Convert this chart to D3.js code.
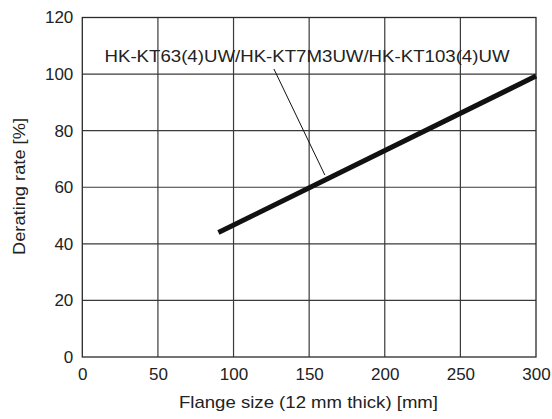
<!DOCTYPE html>
<html><head><meta charset="utf-8">
<script src="https://cdn.jsdelivr.net/npm/d3@7"></script>
<style>body{margin:0;background:#fff}svg{display:block}text{font-family:"Liberation Sans",Arial,sans-serif;fill:#222}</style>
</head><body>
<script>
const xTicks = [0, 50, 100, 150, 200, 250, 300];
const yTicks = [0, 20, 40, 60, 80, 100, 120];
const lineX = [90, 300];
const lineY = [44, 99.3];
const seriesLabel = "HK-KT63(4)UW/HK-KT7M3UW/HK-KT103(4)UW";
const leaderX = [126.7, 160.4];
const leaderY = [101.8, 64.3];
const xTitle = "Flange size (12 mm thick) [mm]";
const yTitle = "Derating rate [%]";

const W = 552, H = 419;
const m = {l: 82.3, r: 536, t: 17.5, b: 357};
const svg = d3.select("body").append("svg").attr("width", W).attr("height", H);
const x = d3.scaleLinear().domain([0, 300]).range([m.l, m.r]);
const y = d3.scaleLinear().domain([0, 120]).range([m.b, m.t]);

// grid
svg.append("g").selectAll("line").data(xTicks.slice(1, -1)).join("line")
  .attr("x1", d => x(d)).attr("x2", d => x(d)).attr("y1", m.t).attr("y2", m.b)
  .attr("stroke", "#3a3a3a").attr("stroke-width", 1.2);
svg.append("g").selectAll("line").data(yTicks.slice(1, -1)).join("line")
  .attr("y1", d => y(d)).attr("y2", d => y(d)).attr("x1", m.l).attr("x2", m.r)
  .attr("stroke", "#3a3a3a").attr("stroke-width", 1.2);
svg.append("rect").attr("x", m.l).attr("y", m.t).attr("width", m.r - m.l).attr("height", m.b - m.t)
  .attr("fill", "none").attr("stroke", "#2a2a2a").attr("stroke-width", 1.3);

// axes
const xa = svg.append("g").attr("transform", `translate(0,${m.b})`)
  .call(d3.axisBottom(x).tickValues(xTicks).tickSize(0).tickPadding(0));
xa.select(".domain").remove();
xa.selectAll("text").attr("font-size", 17).attr("fill", "#222").attr("dy", null).attr("y", 23);
const ya = svg.append("g").attr("transform", `translate(${m.l},0)`)
  .call(d3.axisLeft(y).tickValues(yTicks).tickSize(0).tickPadding(9));
ya.select(".domain").remove();
ya.selectAll("text").attr("font-size", 17).attr("fill", "#222").attr("dy", "0.32em");

// series line
const line = d3.line().x(d => x(d[0])).y(d => y(d[1]));
svg.append("path").datum(lineX.map((v, i) => [v, lineY[i]])).attr("d", line)
  .attr("fill", "none").attr("stroke", "#111").attr("stroke-width", 5);

// leader
svg.append("path").datum(leaderX.map((v, i) => [v, leaderY[i]])).attr("d", line)
  .attr("fill", "none").attr("stroke", "#111").attr("stroke-width", 1);

// label
svg.append("text").attr("x", 307).attr("y", 62).attr("text-anchor", "middle")
  .attr("font-size", 17).attr("textLength", 405).attr("lengthAdjust", "spacingAndGlyphs").text(seriesLabel);

// titles
svg.append("text").attr("x", 308.5).attr("y", 408).attr("text-anchor", "middle")
  .attr("font-size", 17).attr("textLength", 259).attr("lengthAdjust", "spacingAndGlyphs").text(xTitle);
svg.append("text").attr("transform", `translate(24.5,186.5) rotate(-90)`)
  .attr("text-anchor", "middle").attr("font-size", 17).attr("textLength", 137).attr("lengthAdjust", "spacingAndGlyphs").text(yTitle);
</script>
</body></html>
